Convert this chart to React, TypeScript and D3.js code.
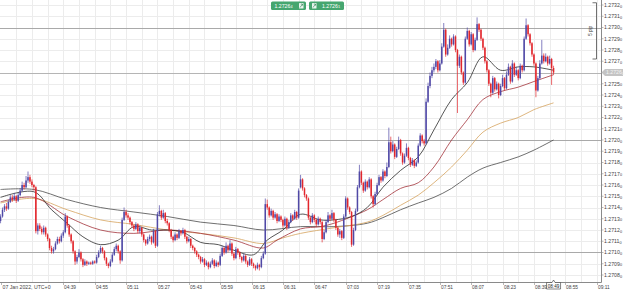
import React, { useEffect, useRef } from 'react';
import * as d3 from 'd3';

// Prices are stored in points above 1.27000 (1 point = 0.00001)
const PRICE_BASE = 1.27;
const POINT = 0.00001;
const START_MINUTE = '2022-01-07T04:07:00Z';

const opens = [
128,132,138,141,139,145,149,147,150,146,
151,155,160,158,164,167,163,160,158,119,
124,121,118,122,116,112,104,101,103,108,
112,110,115,118,132,124,116,110,101,92,
96,100,94,89,92,90,91,90,92,91,
96,100,104,101,95,90,88,92,98,103,
106,101,93,129,136,133,131,127,124,121,
125,119,122,116,111,108,112,114,109,119,
106,134,137,131,135,128,126,120,114,111,
116,113,119,117,120,114,110,112,106,104,
101,98,96,92,94,89,91,87,90,93,
88,91,89,97,104,100,106,102,108,99,
95,103,100,96,93,97,92,89,94,90,
88,86,89,87,95,99,143,140,133,137,
131,134,128,132,129,124,130,122,127,133,
130,136,131,158,165,157,151,148,131,127,
133,129,125,130,127,112,118,127,133,130,
135,129,122,116,119,113,132,148,140,136,
107,120,137,158,172,162,155,163,158,165,
150,143,152,160,167,164,172,168,176,198,
190,196,185,192,200,188,180,186,193,184,
178,182,177,180,195,204,199,197,234,248,
257,262,265,270,262,268,283,298,276,282,
290,285,292,280,266,274,260,251,290,297,
285,294,280,289,303,298,290,282,270,262,
250,242,255,245,250,240,248,255,246,258,
265,252,268,258,262,255,266,262,290,302,
294,286,276,268,244,255,268,275,270,274,
268,272,264];

const closes = [
132,138,141,139,145,149,147,150,146,151,
155,160,158,164,167,163,160,158,119,124,
121,118,122,116,112,104,101,103,108,112,
110,115,118,132,124,116,110,101,92,96,
100,94,89,92,90,91,90,92,91,96,
100,104,101,95,90,88,92,98,103,106,
101,93,129,136,133,131,127,124,121,125,
119,122,116,111,108,112,114,109,119,106,
134,137,131,135,128,126,120,114,111,116,
113,119,117,120,114,110,112,106,104,101,
98,96,92,94,89,91,87,90,93,88,
91,89,97,104,100,106,102,108,99,95,
103,100,96,93,97,92,89,94,90,88,
86,89,87,95,99,143,140,133,137,131,
134,128,132,129,124,130,122,127,133,130,
136,131,155,165,157,151,148,131,127,133,
129,125,130,127,112,118,127,133,130,135,
129,122,116,119,113,132,148,140,136,107,
120,137,158,172,162,155,163,158,165,150,
143,152,160,167,164,172,168,176,198,190,
196,185,192,200,188,180,186,193,184,178,
182,177,180,195,204,199,197,234,248,257,
262,265,270,262,268,283,298,276,282,290,
285,292,280,266,274,260,251,290,297,285,
294,280,289,303,298,290,282,270,262,250,
242,255,245,250,240,248,255,246,258,265,
252,268,258,262,255,266,262,290,302,294,
286,276,268,244,255,268,275,270,274,268,
272,264,260];

const highs = [
134,140,143,144,147,151,151,153,151,153,
157,163,162,168,172,169,165,161,159,126,
126,123,124,123,117,113,106,105,110,114,
114,117,120,135,133,125,117,111,102,98,
103,101,95,94,93,92,92,93,93,98,
102,106,105,102,96,91,94,100,105,108,
107,102,131,140,138,135,132,128,125,127,
126,124,123,117,112,114,116,115,121,120,
136,142,138,138,136,130,127,121,115,118,
117,121,120,122,121,115,114,113,107,105,
102,99,97,96,95,93,92,92,95,94,
93,92,99,106,105,109,107,111,109,100,
105,104,101,97,99,98,93,96,95,91,
89,91,90,97,101,148,147,141,139,138,
136,135,134,133,130,132,131,129,135,134,
138,137,157,169,166,158,152,149,132,135,
134,130,132,131,128,120,129,136,134,138,
136,130,123,121,120,134,150,149,141,137,
122,139,160,178,173,163,165,164,167,166,
151,154,162,169,168,174,173,180,211,203,
199,197,194,203,201,189,188,197,194,185,
184,183,182,197,206,205,201,237,251,260,
265,268,272,271,271,286,304,299,285,293,
291,294,293,281,276,275,261,292,300,298,
296,295,291,309,304,299,291,283,271,263,
251,257,256,252,251,250,258,256,261,268,
266,271,269,265,263,268,267,292,308,303,
295,287,277,269,257,271,289,277,277,275,
275,273,266];

const lows = [
126,131,136,137,138,144,145,146,144,145,
150,154,156,157,162,161,158,155,117,116,
119,116,116,114,110,102,99,99,102,107,
108,109,113,117,122,114,108,99,89,90,
95,92,87,88,88,89,89,89,90,90,
95,99,99,93,88,86,87,91,97,101,
99,90,92,128,131,129,125,122,119,120,
117,117,114,109,106,107,110,107,108,104,
105,132,129,130,126,124,118,112,109,110,
111,112,115,116,112,108,109,104,102,99,
96,94,90,91,87,88,85,86,89,86,
87,87,88,96,98,99,100,101,97,93,
94,98,94,91,92,90,87,88,88,86,
84,85,84,86,94,98,138,131,132,129,
130,126,127,127,122,123,120,121,126,128,
129,129,130,157,155,149,146,129,125,126,
127,123,124,125,109,111,117,126,128,129,
127,120,114,113,111,112,131,138,134,105,
106,119,136,157,160,153,154,156,157,148,
140,142,151,159,162,163,166,167,175,188,
189,183,184,191,186,178,179,185,182,176,
177,175,176,179,194,197,195,196,233,246,
255,260,263,260,261,267,282,274,275,281,
283,284,278,224,264,258,249,250,289,283,
284,278,279,288,296,288,280,268,260,248,
238,241,243,244,237,239,247,244,245,257,
250,251,256,257,253,254,260,261,289,292,
284,274,266,238,243,254,267,268,269,266,
267,249,258];

// Moving averages, read at sample candles (candle index, value in points)
const maSlowIdx = [0,17,34,51,68,85,102,119,134,153,170,187,195,204,213,221,230,238,246,255,264,272,282];
const maSlowVal = [156,156,147,140,136,132,127,124,120,123,123,126,131,138,144,149,157,167,175,180,185,191,200];
const maTanIdx = [0,17,34,51,68,85,102,119,134,144,153,170,187,195,204,213,221,230,238,246,255,264,272,282];
const maTanVal = [144,148,138,129,125,120,117,113,108,113,117,122,127,133,142,151,162,176,191,207,215,220,227,233];
const maRedIdx = [0,17,34,51,68,85,102,119,134,141,153,163,170,187,195,204,213,221,230,238,246,255,264,272,282];
const maRedVal = [145,149,132,120,117,120,117,111,104,111,121,123,126,138,147,157,162,176,200,218,236,243,247,252,258];
const maFastIdx = [0,17,26,34,42,51,60,68,77,85,93,102,111,119,129,136,144,153,163,170,179,187,195,204,213,221,230,238,246,255,264,272,282];
const maFastVal = [149,154,138,126,114,107,111,123,120,120,118,109,107,102,98,111,120,134,129,129,132,140,158,173,185,209,236,251,274,262,265,265,262];

const timeTickLabels = ['04:39','04:55','05:11','05:27','05:43','05:59','06:15','06:31','06:47','07:03','07:19','07:35','07:51','08:07','08:23','08:39','08:55','09:11'];
const gridMinuteLabels = ['04:15','04:23','04:31','04:39','04:47','04:55','05:03','05:11','05:19','05:27','05:35','05:43','05:51','05:59','06:07','06:15','06:23','06:31','06:39','06:47','06:55','07:03','07:11','07:19','07:27','07:35','07:43','07:51','07:59','08:07','08:15','08:23','08:31','08:39','08:47','08:55','09:03','09:11'];
const priceTicks = [80,90,100,110,120,130,140,150,160,170,180,190,200,210,220,230,240,250,270,280,290,300,310,320];
const gridPrices = [80,90,100,110,120,130,140,150,160,170,180,190,200,210,220,230,240,250,260,270,280,290,300,310,320];
const levelLines = [300, 200, 100];
const currentPrice = 260;
const dateLabel = '07 Jan 2022, UTC+0';
const lastTimeLabel = '08:49';
const sellPrice = 264;
const buyPrice = 261;
const rulerTop = 322;
const rulerBottom = 272;
const rulerLabel = '5 pip';

const UP = '#5049a6';
const DOWN = '#e2262c';

function at(hm: string) {
  return new Date(`2022-01-07T${hm}:00Z`);
}

export default function App() {
  const ref = useRef<SVGSVGElement>(null);

  useEffect(() => {
    const svg = d3.select(ref.current);
    svg.selectAll('*').remove();
    const W = 625, H = 291;
    const plotRight = 601.5;
    const axisY = 282.5;

    const x = d3.scaleUtc().domain([at('04:39'), at('09:11')]).range([63.3, 596.7]);
    const y = d3.scaleLinear().domain([80, 320]).range([275, 5]);
    const t0 = new Date(START_MINUTE).getTime();
    const xi = (i: number) => x(new Date(t0 + i * 60000));

    svg.append('rect').attr('width', W).attr('height', H).attr('fill', '#fff');

    // grid
    const grid = svg.append('g');
    gridMinuteLabels.forEach((m) => {
      const gx = Math.round(x(at(m))) + 0.5;
      grid.append('line').attr('x1', gx).attr('x2', gx).attr('y1', 0).attr('y2', axisY)
        .attr('stroke', '#ececec').attr('stroke-width', 1);
    });
    gridPrices.forEach((p) => {
      const gy = Math.round(y(p)) + 0.5;
      grid.append('line').attr('x1', 0).attr('x2', plotRight).attr('y1', gy).attr('y2', gy)
        .attr('stroke', '#ececec').attr('stroke-width', 1);
    });

    // level lines
    levelLines.forEach((p) => {
      const gy = Math.round(y(p)) + 0.5;
      svg.append('line').attr('x1', 0).attr('x2', plotRight).attr('y1', gy).attr('y2', gy)
        .attr('stroke', '#a9a9a9').attr('stroke-width', 1);
    });
    {
      const gy = Math.round(y(currentPrice)) + 0.5;
      svg.append('line').attr('x1', 0).attr('x2', plotRight).attr('y1', gy).attr('y2', gy)
        .attr('stroke', '#b5b5b5').attr('stroke-width', 1);
    }

    // moving averages
    const maG = svg.append('g').attr('fill', 'none').attr('stroke-width', 0.8);
    const drawMA = (idx: number[], vals: number[], color: string) => {
      const line = d3.line<number>()
        .x((_, k) => xi(idx[k]))
        .y((v) => y(v))
        .curve(d3.curveCatmullRom.alpha(0.5));
      maG.append('path').attr('d', line(vals) as string).attr('stroke', color);
    };
    drawMA(maSlowIdx, maSlowVal, '#4a4a4a');
    drawMA(maTanIdx, maTanVal, '#d6a35e');
    drawMA(maRedIdx, maRedVal, '#a3343b');
    drawMA(maFastIdx, maFastVal, '#2b2b2b');

    // candles
    const cg = svg.append('g');
    closes.forEach((c, i) => {
      const o = opens[i];
      const cx = xi(i);
      const col = c >= o ? UP : DOWN;
      cg.append('line').attr('x1', cx).attr('x2', cx).attr('y1', y(highs[i])).attr('y2', y(lows[i]))
        .attr('stroke', col).attr('stroke-width', 0.7);
      const top = y(Math.max(o, c));
      const bot = y(Math.min(o, c));
      cg.append('rect').attr('x', cx - 0.75).attr('width', 1.5)
        .attr('y', top).attr('height', Math.max(0.6, bot - top)).attr('fill', col);
    });

    // right axis
    svg.append('line').attr('x1', plotRight).attr('x2', plotRight).attr('y1', 0).attr('y2', axisY)
      .attr('stroke', '#8a8a8a').attr('stroke-width', 1);
    const fmtMain = (p: number) => (PRICE_BASE + p * POINT).toFixed(4);
    const fmtSub = (p: number) => {
      const s = (PRICE_BASE + p * POINT).toFixed(5);
      return s.slice(-1);
    };
    priceTicks.forEach((p) => {
      const ty = y(p);
      svg.append('line').attr('x1', plotRight).attr('x2', plotRight + 2).attr('y1', ty).attr('y2', ty)
        .attr('stroke', '#8a8a8a').attr('stroke-width', 0.6);
      const t = svg.append('text').attr('x', 604).attr('y', ty + 1.8)
        .attr('font-family', 'Liberation Sans, Arial, sans-serif').attr('font-size', 5.2).attr('fill', '#444');
      t.append('tspan').text(fmtMain(p));
      t.append('tspan').attr('font-size', 3.8).attr('dy', 0.9).text(fmtSub(p));
    });

    // current price box
    {
      const cy = y(currentPrice);
      svg.append('path')
        .attr('d', `M${plotRight},${cy} L${605},${cy - 3.6} L${623},${cy - 3.6} L${623},${cy + 3.6} L${605},${cy + 3.6} Z`)
        .attr('fill', '#c4c4c4');
      const t = svg.append('text').attr('x', 606).attr('y', cy + 1.8)
        .attr('font-family', 'Liberation Sans, Arial, sans-serif').attr('font-size', 5.2).attr('fill', '#f4f4f4');
      t.append('tspan').text(fmtMain(currentPrice));
      t.append('tspan').attr('font-size', 3.8).attr('dy', 0.9).text(fmtSub(currentPrice));
    }

    // bottom axis
    svg.append('line').attr('x1', 0).attr('x2', plotRight).attr('y1', axisY).attr('y2', axisY)
      .attr('stroke', '#8a8a8a').attr('stroke-width', 1);
    timeTickLabels.forEach((m) => {
      const tx = Math.round(x(at(m))) + 0.5;
      svg.append('line').attr('x1', tx).attr('x2', tx).attr('y1', axisY).attr('y2', axisY + 2.5)
        .attr('stroke', '#8a8a8a').attr('stroke-width', 0.6);
      svg.append('text').attr('x', tx + 0.5).attr('y', 289).text(m)
        .attr('font-family', 'Liberation Sans, Arial, sans-serif').attr('font-size', 4.8).attr('fill', '#444');
    });
    svg.append('line').attr('x1', 1.5).attr('x2', 1.5).attr('y1', axisY).attr('y2', axisY + 2.5)
      .attr('stroke', '#8a8a8a').attr('stroke-width', 0.6);
    svg.append('text').attr('x', 2.5).attr('y', 289).text(dateLabel)
      .attr('font-family', 'Liberation Sans, Arial, sans-serif').attr('font-size', 5.2).attr('fill', '#444');

    // last time box
    {
      const lx = xi(closes.length - 1);
      svg.append('path')
        .attr('d', `M${lx - 7},${axisY} L${lx - 1.5},${axisY} L${lx},${axisY - 2.5} L${lx + 1.5},${axisY} L${lx + 7},${axisY} L${lx + 7},${axisY + 6.5} L${lx - 7},${axisY + 6.5} Z`)
        .attr('fill', '#fff').attr('stroke', '#333').attr('stroke-width', 0.6);
      svg.append('text').attr('x', lx).attr('y', axisY + 5).attr('text-anchor', 'middle').text(lastTimeLabel)
        .attr('font-family', 'Liberation Sans, Arial, sans-serif').attr('font-size', 4.6).attr('fill', '#222');
    }

    // 5 pip ruler
    {
      const ya = y(rulerTop), yb = y(rulerBottom);
      const rx = 596.5;
      svg.append('path').attr('d', `M${rx - 4},${ya} L${rx},${ya} L${rx},${yb} L${rx - 4},${yb}`)
        .attr('fill', 'none').attr('stroke', '#333').attr('stroke-width', 0.7);
      svg.append('text').attr('transform', `translate(${rx - 4.5},${(ya + yb) / 2}) rotate(-90)`)
        .attr('text-anchor', 'middle').text(rulerLabel)
        .attr('font-family', 'Liberation Sans, Arial, sans-serif').attr('font-size', 4.6).attr('fill', '#333');
    }

    // trade buttons
    const drawButton = (bx: number, p: number, iconLeft: boolean) => {
      const g = svg.append('g');
      g.append('rect').attr('x', bx).attr('y', 1.5).attr('width', 35).attr('height', 8.5).attr('rx', 1.5)
        .attr('fill', '#46a66f');
      const ix = iconLeft ? bx + 3 : bx + 28;
      g.append('rect').attr('x', ix).attr('y', 3).attr('width', 4.5).attr('height', 5.5).attr('rx', 0.6)
        .attr('fill', '#e9f5ee');
      g.append('path').attr('d', `M${ix + 1},${7.5} L${ix + 3.5},${4} M${ix + 1.8},${4} L${ix + 3.5},${4} L${ix + 3.5},${5.7}`)
        .attr('stroke', '#2f7d50').attr('stroke-width', 0.6).attr('fill', 'none');
      const tx = iconLeft ? bx + 13 : bx + 3.5;
      const t = g.append('text').attr('x', tx).attr('y', 7.6)
        .attr('font-family', 'Liberation Sans, Arial, sans-serif').attr('font-size', 5.2).attr('fill', '#fff');
      t.append('tspan').text(fmtMain(p));
      t.append('tspan').attr('font-size', 3.8).attr('dy', 0.6).text(fmtSub(p));
    };
    drawButton(271, sellPrice, false);
    drawButton(309, buyPrice, true);
  }, []);

  return (
    <div style={{ position: 'absolute', left: 0, top: 0 }}>
      <svg ref={ref} width={625} height={291} style={{ display: 'block' }} />
    </div>
  );
}
